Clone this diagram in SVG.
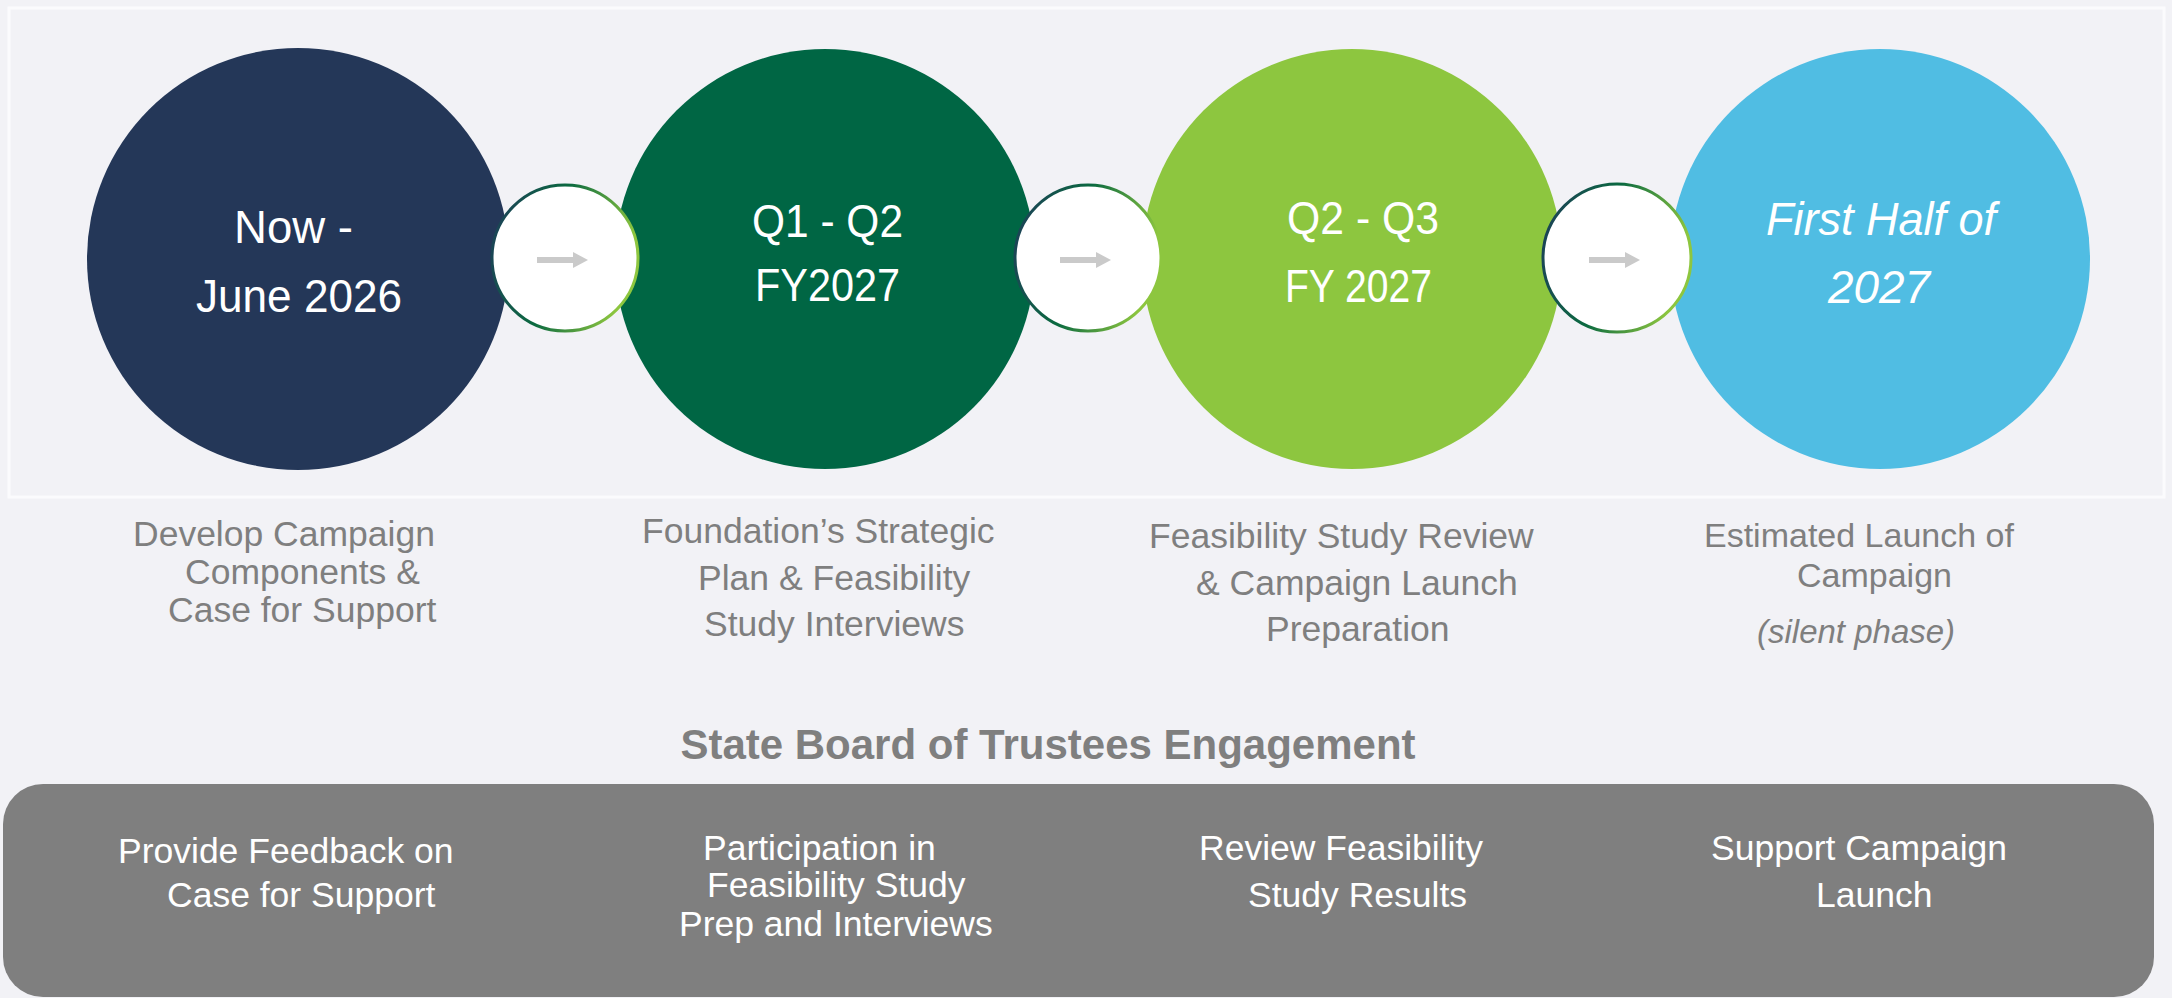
<svg xmlns="http://www.w3.org/2000/svg" width="2172" height="998" viewBox="0 0 2172 998">
<style>
.circ{font-family:"Liberation Sans",Arial,sans-serif;font-size:46px;fill:#ffffff;}
.ital{font-style:italic;}
.lbl{font-family:"Liberation Sans",Arial,sans-serif;font-size:35.5px;fill:#7f7f7f;}
.box{font-family:"Liberation Sans",Arial,sans-serif;font-size:35.5px;fill:#ffffff;}
.title{font-family:"Liberation Sans",Arial,sans-serif;font-size:42px;font-weight:bold;fill:#7f7f7f;}
.link{fill:#ffffff;stroke:url(#ring);stroke-width:3;}
.arr{fill:#cacaca;}
</style>
<defs>
<linearGradient id="ring" x1="0" y1="0" x2="1" y2="0.25">
<stop offset="0" stop-color="#1e3c5a"/>
<stop offset="0.5" stop-color="#0b6a40"/>
<stop offset="1" stop-color="#8dc63f"/>
</linearGradient>
</defs>
<rect x="0" y="0" width="2172" height="998" fill="#f2f2f6"/>
<rect x="9" y="8" width="2155" height="489" fill="#f2f2f6" stroke="#fbfbfd" stroke-width="3"/>

<g id="node-now">
<circle cx="298" cy="259" r="211" fill="#243758"/>
<text class="circ" x="234" y="243" textLength="119" lengthAdjust="spacingAndGlyphs">Now -</text>
<text class="circ" x="196" y="312" textLength="206" lengthAdjust="spacingAndGlyphs">June 2026</text>
</g>
<g id="node-q1q2">
<circle cx="825" cy="259" r="210" fill="#006644"/>
<text class="circ" x="752" y="237" textLength="151" lengthAdjust="spacingAndGlyphs">Q1 - Q2</text>
<text class="circ" x="755" y="301" textLength="145" lengthAdjust="spacingAndGlyphs">FY2027</text>
</g>
<g id="node-q2q3">
<circle cx="1352" cy="259" r="210" fill="#8dc63f"/>
<text class="circ" x="1287" y="234" textLength="152" lengthAdjust="spacingAndGlyphs">Q2 - Q3</text>
<text class="circ" x="1285" y="302" textLength="147" lengthAdjust="spacingAndGlyphs">FY 2027</text>
</g>
<g id="node-2027">
<circle cx="1880" cy="259" r="210" fill="#50bde3"/>
<text class="circ ital" x="1766" y="235" textLength="230" lengthAdjust="spacingAndGlyphs">First Half of</text>
<text class="circ ital" x="1828" y="303" textLength="102" lengthAdjust="spacingAndGlyphs">2027</text>
</g>

<g id="connectors">
<circle class="link" cx="565" cy="258" r="73"/>
<rect class="arr" x="537" y="257" width="37" height="6"/>
<polygon class="arr" points="573,252 588,260 573,268"/>
<circle class="link" cx="1088" cy="258" r="73"/>
<rect class="arr" x="1060" y="257" width="37" height="6"/>
<polygon class="arr" points="1096,252 1111,260 1096,268"/>
<circle class="link" cx="1617" cy="258" r="74"/>
<rect class="arr" x="1589" y="257" width="37" height="6"/>
<polygon class="arr" points="1625,252 1640,260 1625,268"/>
</g>

<g id="label-1">
<text class="lbl" x="133" y="546">Develop Campaign</text>
<text class="lbl" x="185" y="584">Components &amp;</text>
<text class="lbl" x="168" y="622">Case for Support</text>
</g>
<g id="label-2">
<text class="lbl" x="642" y="543">Foundation’s Strategic</text>
<text class="lbl" x="698" y="590">Plan &amp; Feasibility</text>
<text class="lbl" x="704" y="636">Study Interviews</text>
</g>
<g id="label-3">
<text class="lbl" x="1149" y="548">Feasibility Study Review</text>
<text class="lbl" x="1196" y="595">&amp; Campaign Launch</text>
<text class="lbl" x="1266" y="641">Preparation</text>
</g>
<g id="label-4">
<text class="lbl" x="1704" y="547" style="font-size:34px">Estimated Launch of</text>
<text class="lbl" x="1797" y="587" style="font-size:34px">Campaign</text>
<text class="lbl ital" x="1757" y="643" style="font-size:33px">(silent phase)</text>
</g>

<g id="engagement">
<text class="title" x="1048" y="759" text-anchor="middle">State Board of Trustees Engagement</text>
<rect x="3" y="784" width="2151" height="213" rx="40" ry="40" fill="#7f7f7f"/>
<text class="box" x="118" y="863">Provide Feedback on</text>
<text class="box" x="167" y="907">Case for Support</text>
<text class="box" x="703" y="860">Participation in</text>
<text class="box" x="707" y="897">Feasibility Study</text>
<text class="box" x="679" y="936">Prep and Interviews</text>
<text class="box" x="1199" y="860">Review Feasibility</text>
<text class="box" x="1248" y="907">Study Results</text>
<text class="box" x="1711" y="860">Support Campaign</text>
<text class="box" x="1816" y="907">Launch</text>
</g>
</svg>
